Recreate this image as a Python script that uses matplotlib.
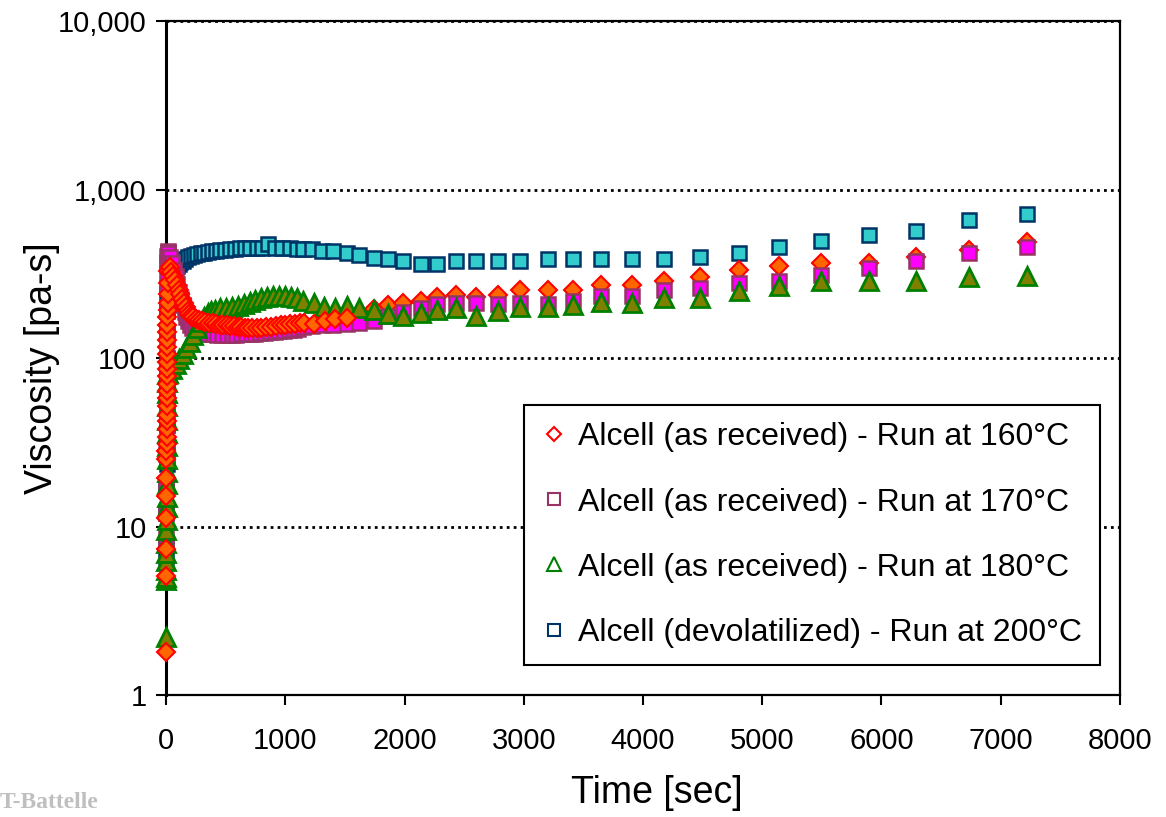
import numpy as np
import matplotlib.pyplot as plt
from matplotlib.lines import Line2D
from matplotlib.ticker import FixedLocator, NullLocator, FuncFormatter

plt.rcParams['font.family'] = ['Liberation Sans', 'DejaVu Sans']

# 160 C run (diamonds)
t_160 = [0, 0, 1, 1, 2, 2, 3, 3, 4, 4, 5, 5, 6, 6, 7, 7, 8, 8, 9, 9,
         10, 10, 11, 11, 12, 12, 13, 13, 14, 14, 15,
         30, 45, 60, 75, 90, 105, 120, 135, 150, 165, 180, 195, 210, 230, 250,
         275, 300, 330, 360, 390, 420, 450, 480, 510, 540, 570, 600, 630, 660,
         690, 720, 760, 800, 840, 880, 920, 960, 1000, 1040, 1080, 1120, 1160,
         1243, 1335, 1419, 1520,
         1745, 1864, 1985, 2135, 2270, 2430, 2600, 2785, 2970, 3200, 3415,
         3645, 3905, 4180, 4475, 4805, 5140, 5490, 5895, 6290, 6735, 7220]
v_160 = [1.8, 5.1, 7.4, 11.3, 15.2, 19.5, 25, 28, 31, 34, 38, 42, 46, 52, 58,
         64, 70, 78, 86, 95, 105, 116, 128, 142, 157, 174, 192, 212, 240, 280, 330,
         345, 325, 305, 290, 272, 255, 240, 225, 212, 200, 190, 183, 178, 174, 171,
         168, 166, 164, 162, 161, 160, 158, 157, 156, 155, 154, 153, 152, 151,
         150, 150, 150, 151, 152, 153, 155, 156, 157, 159, 160, 161, 161,
         159, 166, 170, 172,
         196, 205, 212, 217, 230, 236, 230, 236, 255, 255, 255,
         271, 273, 286, 302, 335, 350, 366, 366, 396, 440, 486]

# 170 C run (magenta squares)
t_170 = [0, 1, 2, 3, 4, 5, 6, 7, 8, 9, 10, 11, 12, 13, 14,
         20, 35, 50, 65, 80, 95, 110, 125, 140, 155, 170, 185, 200, 220, 240,
         265, 290, 320, 350, 390, 430, 470, 510, 550, 590, 630, 670, 710, 750,
         790, 830, 870, 910, 950, 990, 1030, 1070, 1110, 1150, 1226, 1310, 1402,
         1520, 1620, 1745, 1864, 1985, 2135, 2270, 2430, 2600, 2785, 2970, 3200,
         3415, 3645, 3905, 4180, 4475, 4805, 5140, 5490, 5895, 6290, 6735, 7220]
v_170 = [8.6, 12, 18, 27, 40, 60, 90, 135, 200, 260, 320, 370, 405, 425, 430,
         420, 395, 365, 335, 305, 275, 248, 225, 205, 188, 175, 165, 157, 150, 146,
         142, 140, 139, 138, 138, 137, 137, 137, 137, 137, 138, 138, 139, 139,
         140, 141, 142, 143, 144, 145, 146, 147, 149, 152, 154, 156, 158,
         160, 161, 166, 177, 188, 197, 208, 212, 212, 210, 212, 210,
         219, 233, 233, 255, 261, 279, 286, 313, 342, 375, 418, 454]

# 180 C run (triangles)
t_180 = [0, 0, 1, 1, 2, 2, 3, 3, 4, 4, 5, 5, 6, 6, 7, 7, 8, 8, 9, 9, 10,
         20, 50, 80, 110, 140, 170, 200, 230, 260, 290, 320, 350, 380, 410, 450,
         500, 550, 600, 650, 700, 750, 800, 850, 900, 950, 1000, 1050, 1100,
         1150, 1243, 1327, 1419, 1520, 1620, 1745, 1864, 1985, 2135, 2270, 2430,
         2600, 2785, 2970, 3200, 3415, 3645, 3905, 4180, 4475, 4805, 5140, 5490,
         5895, 6290, 6735, 7220]
v_180 = [2.2, 4.8, 5.0, 5.5, 6.2, 7, 8, 9.5, 11, 13, 15, 18, 21, 25, 30, 36,
         43, 52, 62, 72, 80,
         82, 86, 92, 98, 106, 115, 125, 137, 150, 163, 175, 184, 190, 194, 197,
         199, 201, 204, 208, 214, 220, 226, 230, 232, 233, 232, 230, 226,
         217, 211, 200, 197, 203, 197, 194, 182, 177, 186, 194, 197,
         177, 190, 200, 200, 206, 215, 212, 228, 228, 249, 267, 286,
         286, 286, 302, 306]

# 200 C run, devolatilized (cyan squares)
t_200 = [0, 1, 2, 3, 4, 5, 6, 7, 8, 9, 10, 11, 12, 13,
         15, 30, 45, 60, 75, 90, 105, 120, 140, 160, 185, 210, 235, 260, 290,
         320, 350, 385, 420, 455, 495, 535, 580, 620, 665, 705, 760, 805, 855,
         915, 975, 1040, 1100, 1150, 1226, 1310, 1402, 1520, 1620, 1745, 1864,
         1985, 2135, 2270, 2430, 2600, 2785, 2970, 3200, 3415, 3645, 3905, 4180,
         4475, 4805, 5140, 5490, 5895, 6290, 6735, 7220]
v_200 = [6.6, 7.8, 12, 18, 23.6, 30, 40, 55, 75, 100, 140, 190, 240, 280,
         295, 305, 318, 330, 342, 352, 362, 370, 378, 386, 395, 402, 408, 413, 418,
         422, 426, 430, 433, 436, 439, 442, 445, 447, 448, 449, 450, 450, 475,
         450, 449, 448, 446, 442, 442, 429, 429, 418, 406, 391, 385,
         375, 360, 360, 375, 375, 375, 375, 385, 385, 385, 385, 385,
         396, 418, 454, 492, 534, 564, 656, 711]

labels = ['Alcell (as received) - Run at 160°C',
          'Alcell (as received) - Run at 170°C',
          'Alcell (as received) - Run at 180°C',
          'Alcell (devolatilized) - Run at 200°C']

fig = plt.figure(figsize=(11.66, 8.17), dpi=100)
ax = fig.add_axes([0.1424, 0.1493, 0.8181, 0.8250])

t160 = np.array(t_160)
v160 = np.array(v_160)
early = t160 < 1600

ax.plot(t_200, v_200, ls='none', marker='s', ms=10, mfc='#33CCCC', mec='#003366',
        mew=1.8, clip_on=False, zorder=2)
ax.plot(t160[~early], v160[~early], ls='none', marker='D', ms=9, mfc='#FF6600',
        mec='#FF0000', mew=1.5, clip_on=False, zorder=3)
ax.plot(t_170, v_170, ls='none', marker='s', ms=10, mfc='#FF00FF', mec='#993366',
        mew=1.8, clip_on=False, zorder=4)
ax.plot(t_180, v_180, ls='none', marker='^', ms=12.5, mfc='#808000', mec='#008000',
        mew=2, clip_on=False, zorder=5)
ax.plot(t160[early], v160[early], ls='none', marker='D', ms=9, mfc='#FF6600',
        mec='#FF0000', mew=1.5, clip_on=False, zorder=6)

ax.set_yscale('log')
ax.set_xlim(0, 8000)
ax.set_ylim(1, 10000)
ax.set_xticks(range(0, 8001, 1000))
ax.yaxis.set_major_locator(FixedLocator([1, 10, 100, 1000, 10000]))
ax.yaxis.set_minor_locator(NullLocator())
ax.yaxis.set_major_formatter(FuncFormatter(lambda v, p: f'{v:,.0f}'))
ax.grid(axis='y', which='major', color='black', ls=(0, (1, 1.5)), lw=2)
ax.grid(axis='x', visible=False)

ax.tick_params(axis='both', direction='out', length=7, width=1.5, labelsize=21)
ax.tick_params(axis='y', pad=7)
ax.tick_params(axis='x', pad=16)
for side in ['top', 'right', 'bottom']:
    ax.spines[side].set_linewidth(1.6)
ax.spines['left'].set_linewidth(2.2)

ax.set_xlabel('Time [sec]', fontsize=27)
ax.set_ylabel('Viscosity [pa-s]', fontsize=27)
ax.xaxis.set_label_coords(0.514, -0.118)
ax.yaxis.set_label_coords(-0.111, 0.485)

handles = [
    Line2D([], [], ls='none', marker='D', ms=7.5, mfc='white', mec='#FF0000', mew=1.5),
    Line2D([], [], ls='none', marker='s', ms=8.5, mfc='white', mec='#993366', mew=1.5),
    Line2D([], [], ls='none', marker='^', ms=10, mfc='white', mec='#008000', mew=1.5),
    Line2D([], [], ls='none', marker='s', ms=8.5, mfc='white', mec='#003366', mew=1.5),
]
leg = ax.legend(handles, labels, loc='lower right', bbox_to_anchor=(0.979, 0.044),
                fontsize=23, frameon=True, fancybox=False, framealpha=1,
                edgecolor='black', borderpad=0.55, labelspacing=1.1,
                handlelength=0.8, handletextpad=0.35, borderaxespad=0)
leg.get_frame().set_linewidth(1.5)
leg.set_zorder(10)

fig.text(0.0, 9 / 817, 'T-Battelle', fontsize=17, color='#BFBFBF',
         fontweight='bold', family='Liberation Serif', ha='left', va='baseline')

fig.savefig('out.png', dpi=100)
